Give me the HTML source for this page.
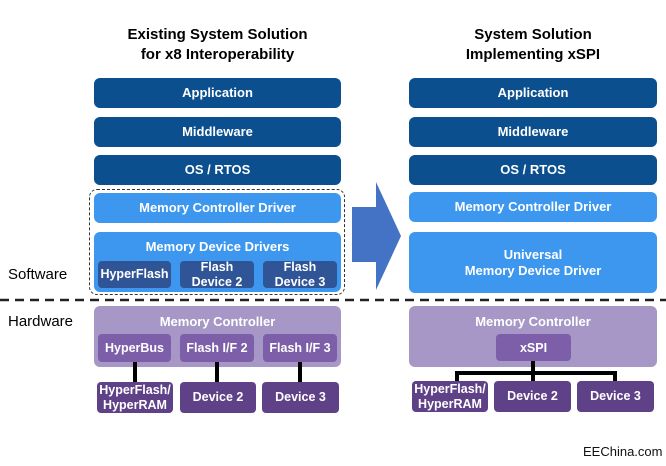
<!DOCTYPE html>
<html><head><style>
body{margin:0;width:666px;height:466px;background:#fff;position:relative;overflow:hidden;font-family:"Liberation Sans",sans-serif}
.b{position:absolute;display:flex;align-items:center;justify-content:center;text-align:center;color:#fff;font-weight:bold;font-size:13px;line-height:16px;border-radius:6px;box-sizing:border-box}
.d{background:#0b4f8f}
.l{background:#3d97ee}
.i{background:#2f5597;font-size:12.5px;line-height:15px;border-radius:4px}
.p{background:#a797c6}
.m{background:#7d5fa9;border-radius:4px;font-size:12.5px}
.q{background:#5f4187;border-radius:4px;font-size:12.5px;line-height:15px}
.t{position:absolute;font-weight:bold;font-size:15px;line-height:20px;text-align:center;color:#000}
.k{position:absolute;background:#000}
</style></head><body>
<div class="t" style="left:94px;width:247px;top:25px">Existing System Solution<br>for x8 Interoperability</div>
<div class="t" style="left:409px;width:248px;top:25px">System Solution<br>Implementing xSPI</div>

<div class="b d" style="left:94px;top:78px;width:247px;height:30px">Application</div>
<div class="b d" style="left:94px;top:117px;width:247px;height:30px">Middleware</div>
<div class="b d" style="left:94px;top:155px;width:247px;height:30px">OS / RTOS</div>
<div style="position:absolute;left:89px;top:189px;width:256px;height:106px;border:1.5px dashed #333;border-radius:8px;box-sizing:border-box"></div>
<div class="b l" style="left:94px;top:193px;width:247px;height:30px">Memory Controller Driver</div>
<div class="b l" style="left:94px;top:232px;width:247px;height:60px;align-items:flex-start;padding-top:7px">Memory Device Drivers</div>
<div class="b i" style="left:98px;top:261px;width:73px;height:27px">HyperFlash</div>
<div class="b i" style="left:180px;top:261px;width:74px;height:27px">Flash<br>Device 2</div>
<div class="b i" style="left:263px;top:261px;width:74px;height:27px">Flash<br>Device 3</div>

<div class="b d" style="left:409px;top:78px;width:248px;height:30px">Application</div>
<div class="b d" style="left:409px;top:117px;width:248px;height:30px">Middleware</div>
<div class="b d" style="left:409px;top:155px;width:248px;height:30px">OS / RTOS</div>
<div class="b l" style="left:409px;top:192px;width:248px;height:30px">Memory Controller Driver</div>
<div class="b l" style="left:409px;top:232px;width:248px;height:61px">Universal<br>Memory Device Driver</div>

<svg style="position:absolute;left:0;top:0" width="666" height="466">
<polygon points="352,207 376,207 376,182 401,236 376,290 376,262 352,262" fill="#4472c4"/>
<line x1="0" y1="300" x2="666" y2="300" stroke="#222" stroke-width="2.5" stroke-dasharray="9,6"/>
</svg>
<div style="position:absolute;left:8px;top:266px;font-size:15px">Software</div>
<div style="position:absolute;left:8px;top:313px;font-size:15px">Hardware</div>

<div class="b p" style="left:94px;top:306px;width:247px;height:61px;align-items:flex-start;padding-top:8px">Memory Controller</div>
<div class="b m" style="left:98px;top:334px;width:73px;height:28px">HyperBus</div>
<div class="b m" style="left:180px;top:334px;width:74px;height:28px">Flash I/F 2</div>
<div class="b m" style="left:263px;top:334px;width:74px;height:28px">Flash I/F 3</div>
<div class="k" style="left:133px;top:362px;width:4px;height:20px"></div>
<div class="k" style="left:215px;top:362px;width:4px;height:20px"></div>
<div class="k" style="left:298px;top:362px;width:4px;height:20px"></div>
<div class="b q" style="left:97px;top:382px;width:76px;height:31px">HyperFlash/<br>HyperRAM</div>
<div class="b q" style="left:180px;top:382px;width:76px;height:31px">Device 2</div>
<div class="b q" style="left:262px;top:382px;width:77px;height:31px">Device 3</div>

<div class="b p" style="left:409px;top:306px;width:248px;height:61px;align-items:flex-start;padding-top:8px">Memory Controller</div>
<div class="b m" style="left:496px;top:334px;width:75px;height:27px">xSPI</div>
<div class="k" style="left:531px;top:361px;width:4px;height:14px"></div>
<div class="k" style="left:455px;top:371px;width:162px;height:4px"></div>
<div class="k" style="left:455px;top:371px;width:4px;height:10px"></div>
<div class="k" style="left:531px;top:371px;width:4px;height:10px"></div>
<div class="k" style="left:613px;top:371px;width:4px;height:10px"></div>
<div class="b q" style="left:412px;top:381px;width:76px;height:31px">HyperFlash/<br>HyperRAM</div>
<div class="b q" style="left:494px;top:381px;width:77px;height:31px">Device 2</div>
<div class="b q" style="left:577px;top:381px;width:77px;height:31px">Device 3</div>

<div style="position:absolute;left:583px;top:444px;font-size:13px;color:#111">EEChina.com</div>
</body></html>
